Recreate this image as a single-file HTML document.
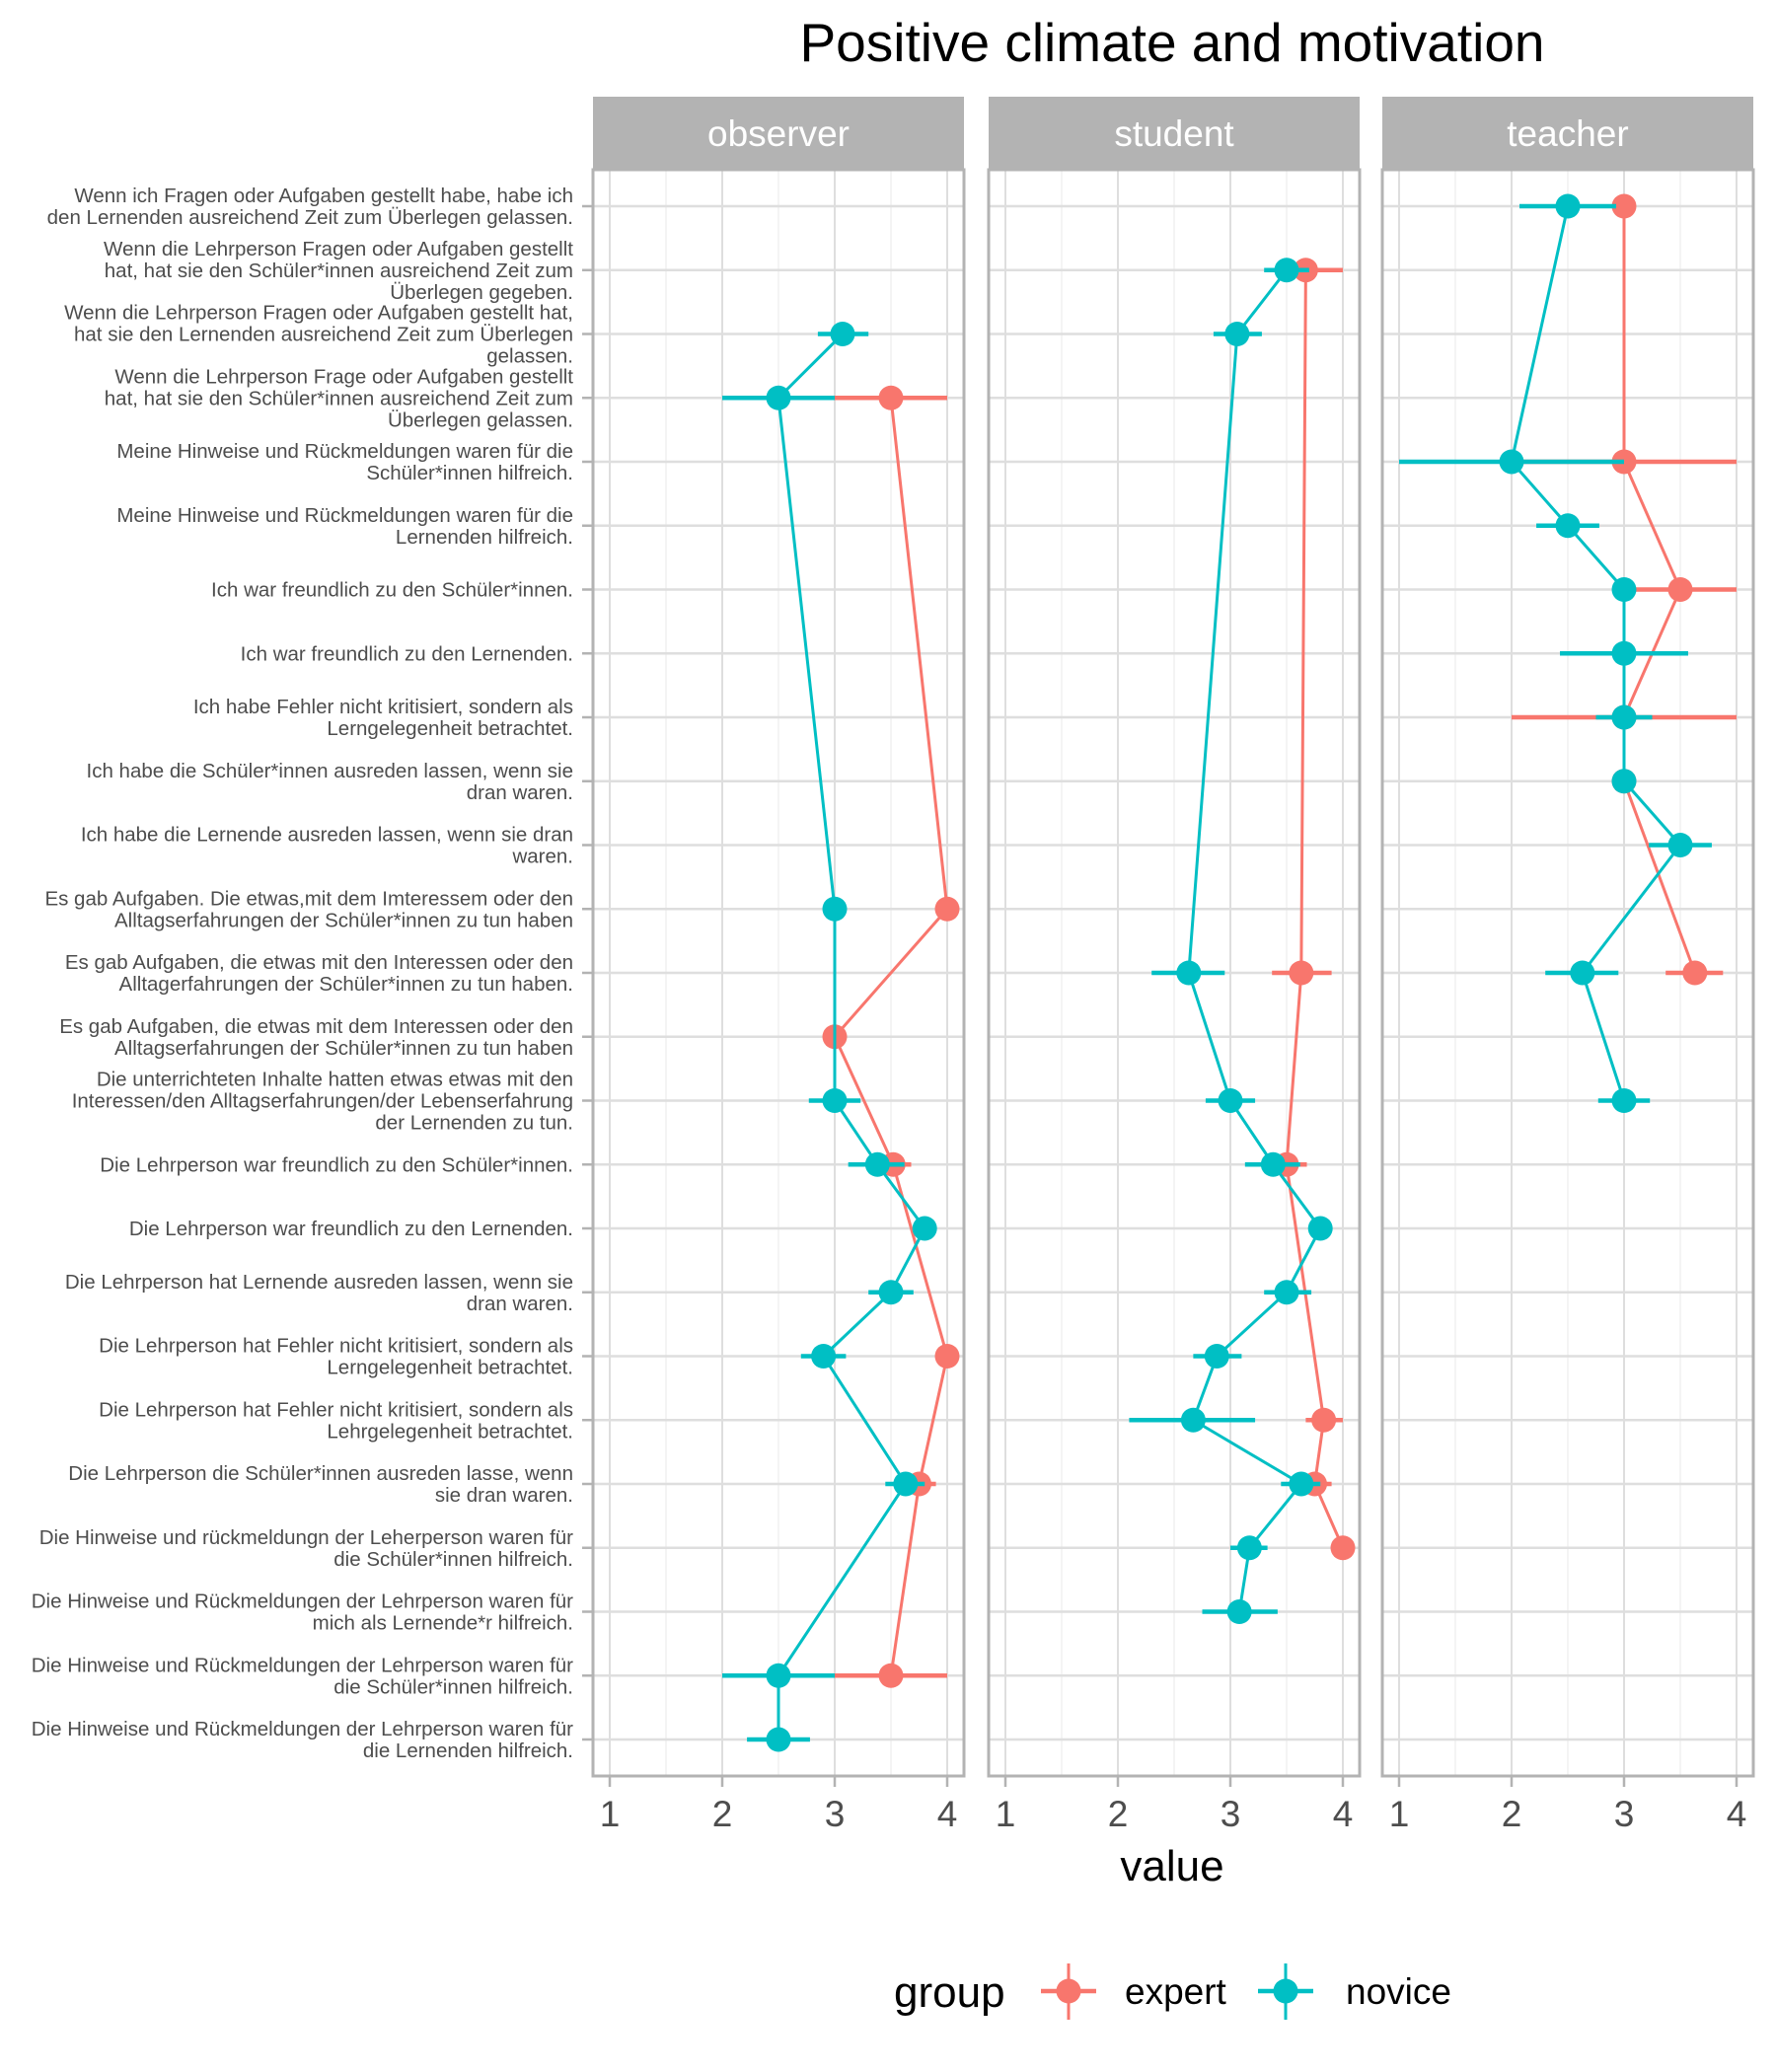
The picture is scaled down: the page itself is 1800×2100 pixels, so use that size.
<!DOCTYPE html>
<html><head><meta charset="utf-8"><style>
html,body{margin:0;padding:0;background:#fff;}
svg{display:block;font-family:"Liberation Sans",sans-serif;}
</style></head><body>
<svg id="chart" width="1800" height="2100" viewBox="0 0 1800 2100" xmlns="http://www.w3.org/2000/svg"></svg>
<script>
const labels = [
"Wenn ich Fragen oder Aufgaben gestellt habe, habe ich\nden Lernenden ausreichend Zeit zum Überlegen gelassen.",
"Wenn die Lehrperson Fragen oder Aufgaben gestellt\nhat, hat sie den Schüler*innen ausreichend Zeit zum\nÜberlegen gegeben.",
"Wenn die Lehrperson Fragen oder Aufgaben gestellt hat,\nhat sie den Lernenden ausreichend Zeit zum Überlegen\ngelassen.",
"Wenn die Lehrperson Frage oder Aufgaben gestellt\nhat, hat sie den Schüler*innen ausreichend Zeit zum\nÜberlegen gelassen.",
"Meine Hinweise und Rückmeldungen waren für die\nSchüler*innen hilfreich.",
"Meine Hinweise und Rückmeldungen waren für die\nLernenden hilfreich.",
"Ich war freundlich zu den Schüler*innen.",
"Ich war freundlich zu den Lernenden.",
"Ich habe Fehler nicht kritisiert, sondern als\nLerngelegenheit betrachtet.",
"Ich habe die Schüler*innen ausreden lassen, wenn sie\ndran waren.",
"Ich habe die Lernende ausreden lassen, wenn sie dran\nwaren.",
"Es gab Aufgaben. Die etwas,mit dem Imteressem oder den\nAlltagserfahrungen der Schüler*innen zu tun haben",
"Es gab Aufgaben, die etwas mit den Interessen oder den\nAlltagerfahrungen der Schüler*innen zu tun haben.",
"Es gab Aufgaben, die etwas mit dem Interessen oder den\nAlltagserfahrungen der Schüler*innen zu tun haben",
"Die unterrichteten Inhalte hatten etwas etwas mit den\nInteressen/den Alltagserfahrungen/der Lebenserfahrung\nder Lernenden zu tun.",
"Die Lehrperson war freundlich zu den Schüler*innen.",
"Die Lehrperson war freundlich zu den Lernenden.",
"Die Lehrperson hat Lernende ausreden lassen, wenn sie\ndran waren.",
"Die Lehrperson hat Fehler nicht kritisiert, sondern als\nLerngelegenheit betrachtet.",
"Die Lehrperson hat Fehler nicht kritisiert, sondern als\nLehrgelegenheit betrachtet.",
"Die Lehrperson die Schüler*innen ausreden lasse, wenn\nsie dran waren.",
"Die Hinweise und rückmeldungn der Leherperson waren für\ndie Schüler*innen hilfreich.",
"Die Hinweise und Rückmeldungen der Lehrperson waren für\nmich als Lernende*r hilfreich.",
"Die Hinweise und Rückmeldungen der Lehrperson waren für\ndie Schüler*innen hilfreich.",
"Die Hinweise und Rückmeldungen der Lehrperson waren für\ndie Lernenden hilfreich."
];
const panels = ["observer","student","teacher"];
const xTicks = [1,2,3,4];
// [row(1-based), mean, low, high]
const obsNovice = [[3,3.07,2.85,3.3],[4,2.5,2,3],[12,3,3,3],[15,3,2.77,3.23],[16,3.38,3.12,3.62],[17,3.8,3.8,3.8],[18,3.5,3.3,3.7],[19,2.9,2.7,3.1],[21,3.63,3.45,3.8],[24,2.5,2,3],[25,2.5,2.22,2.78]];
const obsExpert = [[4,3.5,3,4],[12,4,4,4],[14,3,3,3],[16,3.52,3.35,3.68],[19,4,4,4],[21,3.75,3.6,3.9],[24,3.5,3,4]];
const stuNovice = [[2,3.5,3.3,3.7],[3,3.06,2.85,3.28],[13,2.63,2.3,2.95],[15,3,2.78,3.22],[16,3.38,3.13,3.62],[17,3.8,3.8,3.8],[18,3.5,3.3,3.72],[19,2.88,2.67,3.1],[20,2.67,2.1,3.22],[21,3.63,3.45,3.8],[22,3.17,3,3.33],[23,3.08,2.75,3.42]];
const stuExpert = [[2,3.67,3.33,4],[13,3.63,3.37,3.9],[16,3.5,3.35,3.68],[20,3.83,3.67,4],[21,3.75,3.6,3.9],[22,4,4,4]];
const teaNovice = [[1,2.5,2.07,2.93],[5,2,1,3],[6,2.5,2.22,2.78],[7,3,3,3],[8,3,2.43,3.57],[9,3,2.75,3.25],[10,3,3,3],[11,3.5,3.22,3.78],[13,2.63,2.3,2.95],[15,3,2.77,3.23]];
const teaExpert = [[1,3,3,3],[5,3,2,4],[7,3.5,3,4],[9,3,2,4],[10,3,3,3],[13,3.63,3.37,3.88]];
const series = [[obsExpert,obsNovice],[stuExpert,stuNovice],[teaExpert,teaNovice]];

const NS="http://www.w3.org/2000/svg";
const svgEl=document.getElementById('chart');
function mk(tag,attrs,parent){const e=document.createElementNS(NS,tag);for(const k in attrs)e.setAttribute(k,attrs[k]);(parent||svgEl).appendChild(e);return e;}
const panelLeft=[601,1002,1401], panelW=376, pTop=172, pBottom=1800, stripTop=98;
const COL={expert:"#F8766D",novice:"#00BFC4"};
function xs(p,v){return panelLeft[p]+17+(v-1)*114;}
function ys(r){return 209+(r-1)*64.75;}

let titleEl=mk('text',{x:1188,y:62,'text-anchor':'middle','font-size':55,fill:'#000'});


titleEl.textContent="Positive climate and motivation";

labels.forEach((lab,i)=>{
  const lines=lab.split("\n");const y0=ys(i+1)-(lines.length-1)*11+7;
  const g=mk('text',{x:581,'text-anchor':'end','font-size':20.5,fill:'#4d4d4d'});
  
  
  lines.forEach((l,j)=>{const s=mk('tspan',{x:581,y:y0+j*22},g);s.textContent=l;});
  mk('line',{x1:590,x2:601,y1:ys(i+1),y2:ys(i+1),stroke:'#b3b3b3','stroke-width':2.5});
});

panels.forEach((name,p)=>{
  const L=panelLeft[p];
  const g=mk('g',{});
  
  
  const st=mk('rect',{x:L,y:stripTop,width:panelW,height:pTop-stripTop,fill:'#b3b3b3'},g);
  
  
  const stt=mk('text',{x:L+panelW/2,y:148,'text-anchor':'middle','font-size':37,fill:'#fff'},g);
  
  
  stt.textContent=name;
  [1.5,2.5,3.5].forEach(v=>mk('line',{x1:xs(p,v),x2:xs(p,v),y1:pTop,y2:pBottom,stroke:'#ececec','stroke-width':1.2},g));
  xTicks.forEach(v=>mk('line',{x1:xs(p,v),x2:xs(p,v),y1:pTop,y2:pBottom,stroke:'#dedede','stroke-width':2},g));
  labels.forEach((_,i)=>mk('line',{x1:L,x2:L+panelW,y1:ys(i+1),y2:ys(i+1),stroke:'#dedede','stroke-width':2.5},g));
  mk('rect',{x:L,y:pTop,width:panelW,height:pBottom-pTop,fill:'none',stroke:'#b3b3b3','stroke-width':3},g);
  xTicks.forEach(v=>{
    mk('line',{x1:xs(p,v),x2:xs(p,v),y1:pBottom,y2:pBottom+11,stroke:'#b3b3b3','stroke-width':2.5},g);
    const tx=mk('text',{x:xs(p,v),y:1851,'text-anchor':'middle','font-size':37,fill:'#4d4d4d'},g);
    
    
    tx.textContent=v;
  });
  ['expert','novice'].forEach((grp,gi)=>{
    const data=series[p][gi];const c=COL[grp];
    const sg=mk('g',{},g);
    
    
    const pts=data.map(d=>xs(p,d[1])+','+ys(d[0])).join(' ');
    mk('polyline',{points:pts,fill:'none',stroke:c,'stroke-width':3},sg);
    data.forEach(d=>{
      mk('line',{x1:xs(p,d[2]),x2:xs(p,d[3]),y1:ys(d[0]),y2:ys(d[0]),stroke:c,'stroke-width':4.5},sg);
      const pt=mk('circle',{cx:xs(p,d[1]),cy:ys(d[0]),r:12.5,fill:c},sg);
      
      
    });
  });
});

let xl=mk('text',{x:1188,y:1906,'text-anchor':'middle','font-size':44,fill:'#000'});


xl.textContent="value";

const lg=mk('g',{});


let lt=mk('text',{x:906,y:2034,'font-size':44,fill:'#000'},lg);


lt.textContent="group";
[['expert',1083,1140],['novice',1303,1364]].forEach(([grp,kx,tx])=>{
  const e=mk('g',{},lg);
  
  
  mk('line',{x1:kx,x2:kx,y1:1990,y2:2047,stroke:COL[grp],'stroke-width':3},e);
  mk('line',{x1:kx-28,x2:kx+28,y1:2018,y2:2018,stroke:COL[grp],'stroke-width':4.5},e);
  mk('circle',{cx:kx,cy:2018,r:12.5,fill:COL[grp]},e);
  const tt=mk('text',{x:tx,y:2031,'font-size':37,fill:'#000'},e);
  tt.textContent=grp;
});
</script>
</body></html>
